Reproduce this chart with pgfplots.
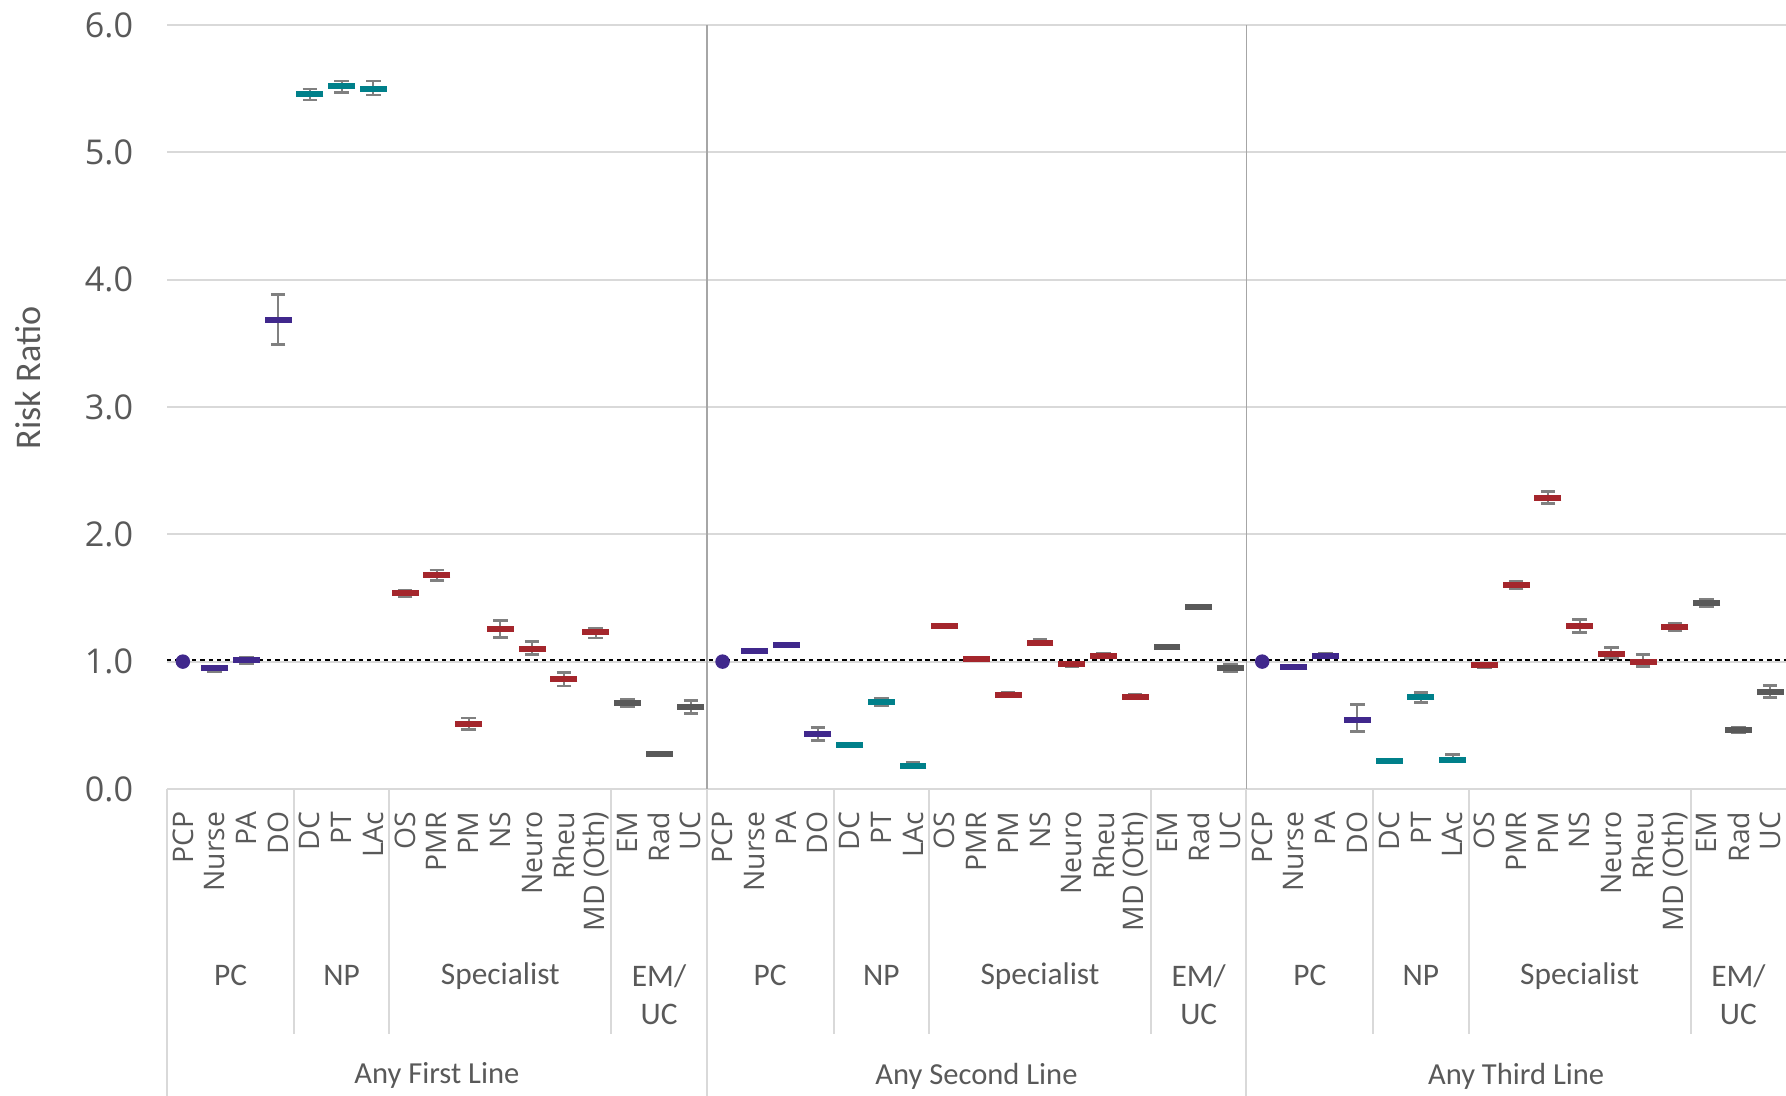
\documentclass[border=0pt]{standalone}
\usepackage{pgfplots}
\pgfplotsset{compat=1.18}
\usepackage{pgfplotstable}
\usepackage{fontspec}
\setmainfont{Open Sans}
\newfontfamily\calib{Carlito}

\definecolor{pcc}{HTML}{40288C}
\definecolor{npc}{HTML}{00808A}
\definecolor{spc}{HTML}{A4262C}
\definecolor{emc}{HTML}{595959}
\definecolor{txt}{HTML}{595959}
\definecolor{gridc}{HTML}{D9D9D9}
\definecolor{sepc}{HTML}{A6A6A6}
\definecolor{whisk}{HTML}{808080}

% x  y  ep  em  (risk ratio and CI half-widths)
\pgfplotstableread{
x  y      ep     em
1  0.947  0.018  0.022
2  1.010  0.025  0.025
3  3.680  0.205  0.190
18 1.083  0.010  0.010
19 1.130  0.010  0.010
20 0.431  0.050  0.052
35 0.955  0.012  0.012
36 1.044  0.022  0.014
37 0.539  0.123  0.089
}\pcdata
\pgfplotstableread{
x  y      ep     em
4  5.460  0.037  0.050
5  5.518  0.042  0.048
6  5.500  0.060  0.050
21 0.345  0.008  0.008
22 0.683  0.027  0.028
23 0.180  0.025  0.015
38 0.219  0.008  0.008
39 0.722  0.034  0.044
40 0.227  0.045  0.015
}\npdata
\pgfplotstableread{
x  y      ep     em
7  1.536  0.025  0.025
8  1.678  0.042  0.043
9  0.510  0.047  0.042
10 1.254  0.066  0.064
11 1.097  0.060  0.042
12 0.861  0.053  0.053
13 1.233  0.027  0.048
24 1.280  0.008  0.008
25 1.018  0.010  0.010
26 0.738  0.022  0.012
27 1.146  0.029  0.015
28 0.981  0.015  0.021
29 1.044  0.023  0.012
30 0.722  0.023  0.012
41 0.971  0.015  0.021
42 1.602  0.028  0.032
43 2.285  0.050  0.044
44 1.280  0.050  0.052
45 1.060  0.050  0.036
46 0.997  0.058  0.036
47 1.272  0.028  0.032
}\spdata
\pgfplotstableread{
x  y      ep     em
14 0.675  0.025  0.030
15 0.274  0.016  0.016
16 0.643  0.053  0.052
31 1.115  0.008  0.008
32 1.429  0.008  0.008
33 0.950  0.025  0.025
48 1.460  0.030  0.030
49 0.463  0.022  0.023
50 0.761  0.050  0.041
}\emdata

\tikzset{grp/.style={font=\calib\fontsize{11.3}{13.5}\selectfont, text=txt},
         top/.style={font=\calib\fontsize{11}{13}\selectfont, text=txt}}

\begin{document}
\begin{tikzpicture}
\begin{axis}[
  scale only axis,
  width=582.8pt, height=275pt,
  xmin=-0.5, xmax=50.5,
  ymin=0, ymax=6,
  clip=false,
  axis line style={draw=none},
  major tick length=0pt,
  ytick={0,1,...,6},
  ymajorgrids=true,
  grid style={gridc, line width=0.7pt},
  yticklabel style={/pgf/number format/fixed, /pgf/number format/fixed zerofill,
    /pgf/number format/precision=1, /pgf/number format/assume math mode=true,
    font=\fontsize{12.3}{14}\selectfont, text=txt, inner sep=0pt},
  yticklabel shift=12pt,
  xtick={0,...,50},
  xticklabels={PCP,Nurse,PA,DO,DC,PT,LAc,OS,PMR,PM,NS,Neuro,Rheu,MD (Oth),EM,Rad,UC,
               PCP,Nurse,PA,DO,DC,PT,LAc,OS,PMR,PM,NS,Neuro,Rheu,MD (Oth),EM,Rad,UC,
               PCP,Nurse,PA,DO,DC,PT,LAc,OS,PMR,PM,NS,Neuro,Rheu,MD (Oth),EM,Rad,UC},
  xticklabel style={rotate=90, anchor=east, inner sep=0pt, font=\fontsize{10.2}{12}\selectfont, text=txt},
  xticklabel shift=8pt,
  every axis y label/.style={at={(axis description cs:-0.0856,0.538)}, rotate=90, anchor=center},
  ylabel={\calib\fontsize{13}{15}\selectfont\color{txt}Risk Ratio},
  err/.style={only marks, mark=-, mark size=4.85pt,
    mark options={line width=2.2pt, draw=#1, fill=#1},
    error bars/.cd, y dir=both, y explicit,
    error mark=-,
    error bar style={whisk, line width=0.7pt},
    error mark options={rotate=90, whisk, line width=1pt, mark size=2.6pt}},
]
% group separators inside the plot
\addplot[sepc, line width=0.6pt] coordinates {(16.5,0) (16.5,6)};
\addplot[sepc, line width=0.6pt] coordinates {(33.5,0) (33.5,6)};

\addplot[err=pcc] table[x=x, y=y, y error plus=ep, y error minus=em] {\pcdata};
\addplot[err=npc] table[x=x, y=y, y error plus=ep, y error minus=em] {\npdata};
\addplot[err=spc] table[x=x, y=y, y error plus=ep, y error minus=em] {\spdata};
\addplot[err=emc] table[x=x, y=y, y error plus=ep, y error minus=em] {\emdata};
% reference category PCP
\addplot[only marks, mark=*, mark size=2.4pt, mark options={fill=pcc, draw=pcc}] coordinates {(0,1) (17,1) (34,1)};
% reference line
\addplot[black, line width=0.6pt, dash pattern=on 1.6pt off 1.4pt] coordinates {(-0.5,1.012) (50.5,1.012)};

% label-area separators
\pgfplotsinvokeforeach{3.5,6.5,13.5,20.5,23.5,30.5,37.5,40.5,47.5}{
  \draw[gridc, line width=0.7pt] (axis cs:#1,0) -- ([yshift=-88.2pt]axis cs:#1,0);
}
\pgfplotsinvokeforeach{-0.5,16.5,33.5}{
  \draw[gridc, line width=0.7pt] (axis cs:#1,0) -- ([yshift=-110.5pt]axis cs:#1,0);
}
% group labels
\node[grp] at ([yshift=-67.3pt]axis cs:1.5,0) {PC};
\node[grp] at ([yshift=-67.3pt]axis cs:5,0) {NP};
\node[grp] at ([yshift=-67.3pt]axis cs:10,0) {Specialist};
\node[grp, align=center] at ([yshift=-74pt]axis cs:15,0) {EM/\\UC};
\node[grp] at ([yshift=-67.3pt]axis cs:18.5,0) {PC};
\node[grp] at ([yshift=-67.3pt]axis cs:22,0) {NP};
\node[grp] at ([yshift=-67.3pt]axis cs:27,0) {Specialist};
\node[grp, align=center] at ([yshift=-74pt]axis cs:32,0) {EM/\\UC};
\node[grp] at ([yshift=-67.3pt]axis cs:35.5,0) {PC};
\node[grp] at ([yshift=-67.3pt]axis cs:39,0) {NP};
\node[grp] at ([yshift=-67.3pt]axis cs:44,0) {Specialist};
\node[grp, align=center] at ([yshift=-74pt]axis cs:49,0) {EM/\\UC};
\node[top] at ([yshift=-103.3pt]axis cs:8,0) {Any First Line};
\node[top] at ([yshift=-103.3pt]axis cs:25,0) {Any Second Line};
\node[top] at ([yshift=-103.3pt]axis cs:42,0) {Any Third Line};
\end{axis}
\pgfresetboundingbox
\path[use as bounding box] ([xshift=-60.12pt, yshift=-110.5pt]current axis.south west) rectangle ([yshift=9pt]current axis.north east);
\end{tikzpicture}
\end{document}
